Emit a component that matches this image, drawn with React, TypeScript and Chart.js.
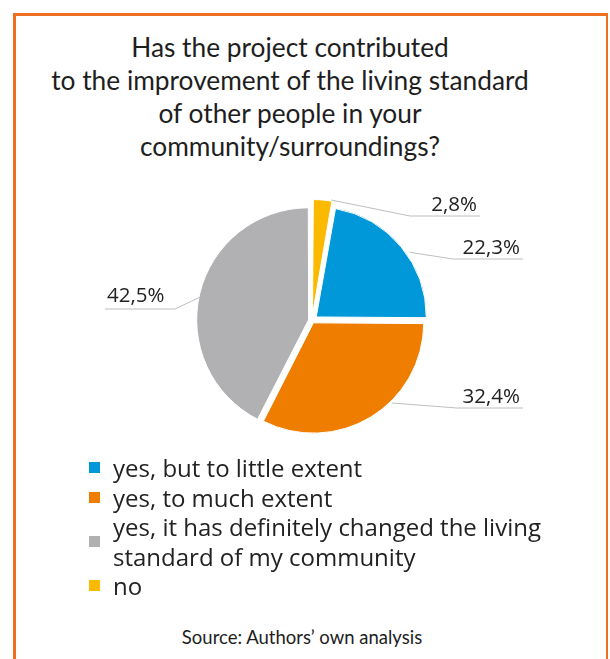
import React, { useEffect, useRef } from "react";
import { Chart, registerables } from "chart.js";

Chart.register(...registerables);

const TITLE_LINES = [
  "Has the project contributed",
  "to the improvement of the living standard",
  "of other people in your",
  "community/surroundings?",
];

const CATEGORIES: (string | string[])[] = [
  "yes, but to little extent",
  "yes, to much extent",
  ["yes, it has definitely changed the living", "standard of my community"],
  "no",
];

const VALUES = [22.3, 32.4, 42.5, 2.8];

const COLORS = ["#0098D8", "#EF7D00", "#B1B0B3", "#FBB900"];

const SOURCE_TEXT = "Source: Authors\u2019 own analysis";

const formatPct = (v: number) => v.toFixed(1).replace(".", ",") + "%";

// label leader-line layout (relative to pie centre), one per slice
const LABEL_LAYOUT = [
  { frac: 0.56, push: 9, elbow: [141, -61.5], end: 211 },
  { frac: 0.39, push: 5, elbow: [145, 87.5], end: 211 },
  { frac: 0.49, push: 4, elbow: [-137, -11.5], end: -207 },
  { frac: 0.9, push: 12, elbow: [98, -104.5], end: 168 },
];

const leaderPlugin = {
  id: "leaderLabels",
  afterDatasetsDraw(chart: any) {
    const ctx = chart.ctx as CanvasRenderingContext2D;
    const meta = chart.getDatasetMeta(0);
    meta.data.forEach((arc: any, i: number) => {
      const p = arc.getProps(["x", "y", "startAngle", "endAngle", "outerRadius"], true);
      const L = LABEL_LAYOUT[i];
      const a = p.startAngle + L.frac * (p.endAngle - p.startAngle);
      const r = p.outerRadius + L.push;
      const ax = p.x + Math.cos(a) * r;
      const ay = p.y + Math.sin(a) * r;
      const ex = p.x + L.elbow[0];
      const ey = p.y + L.elbow[1];
      const endX = p.x + L.end;
      ctx.save();
      ctx.strokeStyle = "#BEBEBE";
      ctx.lineWidth = 1;
      ctx.beginPath();
      ctx.moveTo(ax, ay);
      ctx.lineTo(ex, ey);
      ctx.lineTo(endX, ey);
      ctx.stroke();
      ctx.fillStyle = "#222222";
      ctx.font = "20.5px 'Open Sans'";
      ctx.textBaseline = "alphabetic";
      const txt = formatPct(VALUES[i]);
      if (L.end > 0) {
        ctx.textAlign = "right";
        ctx.fillText(txt, endX - 3, ey - 5);
      } else {
        ctx.textAlign = "left";
        ctx.fillText(txt, endX + 2, ey - 7);
      }
      ctx.restore();
    });
  },
};

function PieChart() {
  const ref = useRef<HTMLCanvasElement | null>(null);
  useEffect(() => {
    if (!ref.current) return;
    const total = VALUES.reduce((s, v) => s + v, 0);
    const rotation = (VALUES[VALUES.length - 1] / total) * 360;
    const chart = new Chart(ref.current, {
      type: "pie",
      data: {
        labels: CATEGORIES.map((c) => (Array.isArray(c) ? c.join(" ") : c)),
        datasets: [
          {
            data: VALUES,
            backgroundColor: COLORS,
            borderColor: "#ffffff",
            borderWidth: 1,
            offset: [22, 11, 14, 24],
          },
        ],
      },
      options: {
        responsive: false,
        maintainAspectRatio: false,
        animation: false,
        rotation: rotation,
        radius: 110,
        layout: { padding: 0 },
        plugins: {
          legend: { display: false },
          title: { display: false },
          tooltip: { enabled: false },
        },
      },
      plugins: [leaderPlugin],
    });
    return () => chart.destroy();
  }, []);
  return (
    <canvas
      ref={ref}
      width={596}
      height={281}
      style={{ position: "absolute", left: 14, top: 180, width: 596, height: 281 }}
    />
  );
}

export default function App() {
  return (
    <div
      style={{
        position: "absolute",
        left: 0,
        top: 0,
        width: 610,
        height: 659,
        background: "#ffffff",
        overflow: "hidden",
      }}
    >
      <div
        style={{
          position: "absolute",
          left: 13,
          top: 13,
          width: 590,
          height: 720,
          borderLeft: "3px solid #EE6F1F",
          borderTop: "3px solid #EE6F1F",
          borderRight: "2px solid #EE6F1F",
        }}
      />
      <div
        style={{
          position: "absolute",
          left: 0,
          top: 31,
          width: 580,
          textAlign: "center",
          fontFamily: "Lato, sans-serif",
          fontWeight: 400,
          fontSize: 26.3,
          lineHeight: "33px",
          color: "#1e1e1e",
        }}
      >
        {TITLE_LINES.map((t, i) => (
          <div key={i} style={{ whiteSpace: "nowrap" }}>{t}</div>
        ))}
      </div>
      <PieChart />
      <div
        style={{
          position: "absolute",
          left: 89,
          top: 453,
          fontFamily: "'Open Sans', sans-serif",
          fontSize: 24,
          lineHeight: "29.5px",
          color: "#222222",
        }}
      >
        {CATEGORIES.map((c, i) => {
          const lines = Array.isArray(c) ? c : [c];
          return (
            <div key={i} style={{ display: "flex", alignItems: "center" }}>
              <div
                style={{
                  width: 11,
                  height: 11,
                  background: COLORS[i],
                  marginRight: 13,
                  flex: "0 0 auto",
                }}
              />
              <div>
                {lines.map((l, j) => (
                  <div key={j} style={{ whiteSpace: "nowrap" }}>
                    {l}
                  </div>
                ))}
              </div>
            </div>
          );
        })}
      </div>
      <div
        style={{
          position: "absolute",
          left: 0,
          top: 627,
          width: 604,
          textAlign: "center",
          fontFamily: "Lato, sans-serif",
          fontSize: 18.5,
          lineHeight: "20px",
          color: "#1e1e1e",
        }}
      >
        {SOURCE_TEXT}
      </div>
    </div>
  );
}
